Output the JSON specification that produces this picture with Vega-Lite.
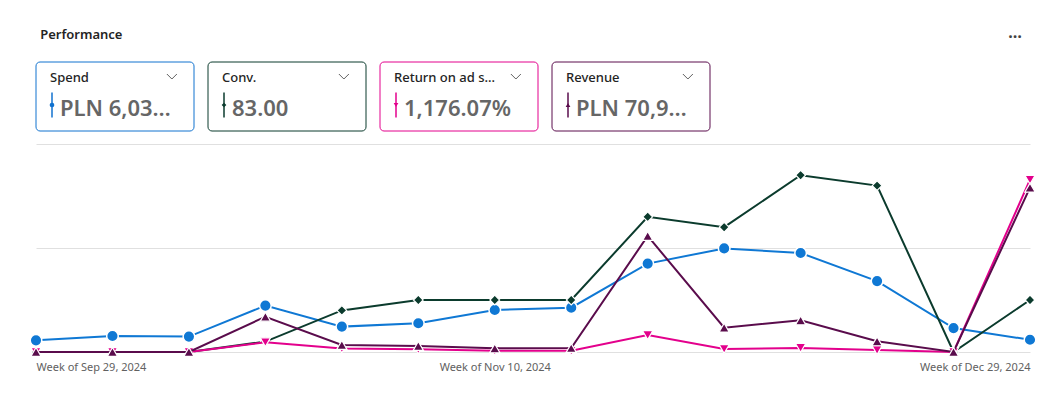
{
  "$schema": "https://vega.github.io/schema/vega-lite/v6.json",
  "background": "white",
  "padding": {"left": 27, "top": 24, "right": 23, "bottom": 8},
  "title": {"text": "Performance", "anchor": "start", "dx": 13, "fontSize": 13, "fontWeight": 600, "color": "#242424", "baseline": "alphabetic", "offset": -27},
  "config": {"view": {"stroke": null}, "font": "Noto Sans"},
  "datasets": {
    "weekly": [
      {"week": "2024-09-29", "spend": 112, "conv": 0, "roas": 0, "revenue": 0},
      {"week": "2024-10-06", "spend": 154, "conv": 0, "roas": 0, "revenue": 0},
      {"week": "2024-10-13", "spend": 148, "conv": 0, "roas": 0, "revenue": 0},
      {"week": "2024-10-20", "spend": 446, "conv": 1, "roas": 1392, "revenue": 6210},
      {"week": "2024-10-27", "spend": 244, "conv": 4, "roas": 504, "revenue": 1230},
      {"week": "2024-11-03", "spend": 276, "conv": 5, "roas": 384, "revenue": 1060},
      {"week": "2024-11-10", "spend": 404, "conv": 5, "roas": 161, "revenue": 650},
      {"week": "2024-11-17", "spend": 426, "conv": 5, "roas": 164, "revenue": 700},
      {"week": "2024-11-24", "spend": 850, "conv": 13, "roas": 2402, "revenue": 20420},
      {"week": "2024-12-01", "spend": 996, "conv": 12, "roas": 430, "revenue": 4280},
      {"week": "2024-12-08", "spend": 952, "conv": 17, "roas": 586, "revenue": 5580},
      {"week": "2024-12-15", "spend": 682, "conv": 16, "roas": 276, "revenue": 1880},
      {"week": "2024-12-22", "spend": 230, "conv": 0, "roas": 0, "revenue": 0},
      {"week": "2024-12-29", "spend": 118, "conv": 5, "roas": 24517, "revenue": 28930}
    ],
    "kpis": [
      {"metric": "Spend", "label": "Spend", "value": "PLN 6,03…"},
      {"metric": "Conv.", "label": "Conv.", "value": "83.00"},
      {"metric": "Return on ad spend", "label": "Return on ad s…", "value": "1,176.07%"},
      {"metric": "Revenue", "label": "Revenue", "value": "PLN 70,9…"}
    ]
  },
  "vconcat": [
    {
      "width": 994,
      "height": 69,
      "data": {"name": "kpis"},
      "title": {"text": "…", "anchor": "end", "dx": -8, "fontSize": 16, "fontWeight": "bold", "color": "#424242", "baseline": "alphabetic", "offset": 8},
      "layer": [
        {
          "mark": {"type": "rect", "fill": "white", "cornerRadius": 4, "strokeWidth": 1},
          "encoding": {
            "x": {"field": "metric", "type": "nominal", "sort": null, "axis": null, "scale": {"paddingInner": 0.0814, "paddingOuter": 0.9302, "align": 0}},
            "stroke": {"field": "metric", "type": "nominal", "legend": null, "scale": {"domain": ["Spend", "Conv.", "Return on ad spend", "Revenue"], "range": ["#1172CF", "#0B3B2D", "#E3008C", "#5A0C4C"]}}
          }
        },
        {
          "mark": {"type": "text", "align": "left", "baseline": "alphabetic", "dx": 14, "dy": -14.5, "fontSize": 13, "fontWeight": 500, "color": "#242424"},
          "encoding": {
            "x": {"field": "metric", "type": "nominal", "sort": null, "bandPosition": 0},
            "text": {"field": "label"}
          }
        },
        {
          "mark": {"type": "text", "align": "left", "baseline": "alphabetic", "dx": 24, "dy": 19.5, "fontSize": 22, "fontWeight": 600, "color": "#666666"},
          "encoding": {
            "x": {"field": "metric", "type": "nominal", "sort": null, "bandPosition": 0},
            "text": {"field": "value"}
          }
        },
        {
          "mark": {"type": "tick", "orient": "vertical", "size": 25, "thickness": 2, "xOffset": 16, "yOffset": 8.5, "opacity": 0.75},
          "encoding": {
            "x": {"field": "metric", "type": "nominal", "sort": null, "bandPosition": 0},
            "color": {"field": "metric", "type": "nominal", "legend": null, "scale": {"domain": ["Spend", "Conv.", "Return on ad spend", "Revenue"], "range": ["#1172CF", "#0B3B2D", "#E3008C", "#5A0C4C"]}}
          }
        },
        {
          "mark": {"type": "point", "filled": true, "size": 22, "xOffset": 16, "yOffset": 8.5, "opacity": 1},
          "encoding": {
            "x": {"field": "metric", "type": "nominal", "sort": null, "bandPosition": 0},
            "color": {"field": "metric", "type": "nominal", "legend": null, "scale": {"domain": ["Spend", "Conv.", "Return on ad spend", "Revenue"], "range": ["#1172CF", "#0B3B2D", "#E3008C", "#5A0C4C"]}},
            "shape": {"field": "metric", "type": "nominal", "legend": null, "scale": {"domain": ["Spend", "Conv.", "Return on ad spend", "Revenue"], "range": ["circle", "diamond", "triangle-down", "triangle-up"]}}
          }
        },
        {
          "mark": {"type": "point", "shape": "M-1,-0.5L0,0.5L1,-0.5", "size": 100, "filled": false, "stroke": "#616161", "strokeWidth": 1, "yOffset": -20, "opacity": 1},
          "encoding": {
            "x": {"field": "metric", "type": "nominal", "sort": null, "bandPosition": 0.86}
          }
        }
      ]
    },
    {
      "width": 994,
      "height": 208,
      "data": {"name": "weekly"},
      "encoding": {
        "x": {
          "field": "week", "type": "temporal", "scale": {"type": "utc"},
          "axis": {
            "values": [{"year": 2024, "month": 9, "date": 29, "utc": true}, {"year": 2024, "month": 11, "date": 10, "utc": true}, {"year": 2024, "month": 12, "date": 29, "utc": true}],
            "labelExpr": "'Week of ' + utcFormat(datum.value, '%b %-d, %Y')",
            "labelFlush": true, "domain": false, "ticks": false, "grid": false, "title": null,
            "labelPadding": 9, "labelFontSize": 11, "labelColor": "#616161"
          }
        }
      },
      "layer": [
        {
          "encoding": {"y": {"field": "spend", "type": "quantitative", "scale": {"domain": [0, 2000]}, "axis": {"values": [0, 1000, 2000], "grid": true, "gridColor": "#e0e0e0", "labels": false, "ticks": false, "domain": false, "title": null}}},
          "layer": [
            {"mark": {"type": "line", "stroke": "#0F78D4", "strokeWidth": 2}},
            {"mark": {"type": "point", "shape": "circle", "filled": true, "size": 135, "fill": "#0F78D4", "stroke": "white", "strokeWidth": 1.5, "opacity": 1}}
          ]
        },
        {
          "encoding": {"y": {"field": "conv", "type": "quantitative", "scale": {"domain": [0, 20]}, "axis": null}},
          "layer": [
            {"mark": {"type": "line", "stroke": "#0B3B2D", "strokeWidth": 2}},
            {"mark": {"type": "point", "shape": "diamond", "filled": true, "size": 95, "fill": "#0B3B2D", "stroke": "white", "strokeWidth": 1.2, "opacity": 1}}
          ]
        },
        {
          "encoding": {"y": {"field": "roas", "type": "quantitative", "scale": {"domain": [0, 29600]}, "axis": null}},
          "layer": [
            {"mark": {"type": "line", "stroke": "#E3008C", "strokeWidth": 2}},
            {"mark": {"type": "point", "shape": "triangle-down", "filled": true, "size": 105, "fill": "#E3008C", "stroke": "white", "strokeWidth": 1.2, "opacity": 1}}
          ]
        },
        {
          "encoding": {"y": {"field": "revenue", "type": "quantitative", "scale": {"domain": [0, 36600]}, "axis": null}},
          "layer": [
            {"mark": {"type": "line", "stroke": "#5A0C4C", "strokeWidth": 2}},
            {"mark": {"type": "point", "shape": "triangle-up", "filled": true, "size": 105, "fill": "#5A0C4C", "stroke": "white", "strokeWidth": 1.2, "opacity": 1}}
          ]
        }
      ],
      "resolve": {"scale": {"y": "independent"}}
    }
  ],
  "spacing": 12
}
